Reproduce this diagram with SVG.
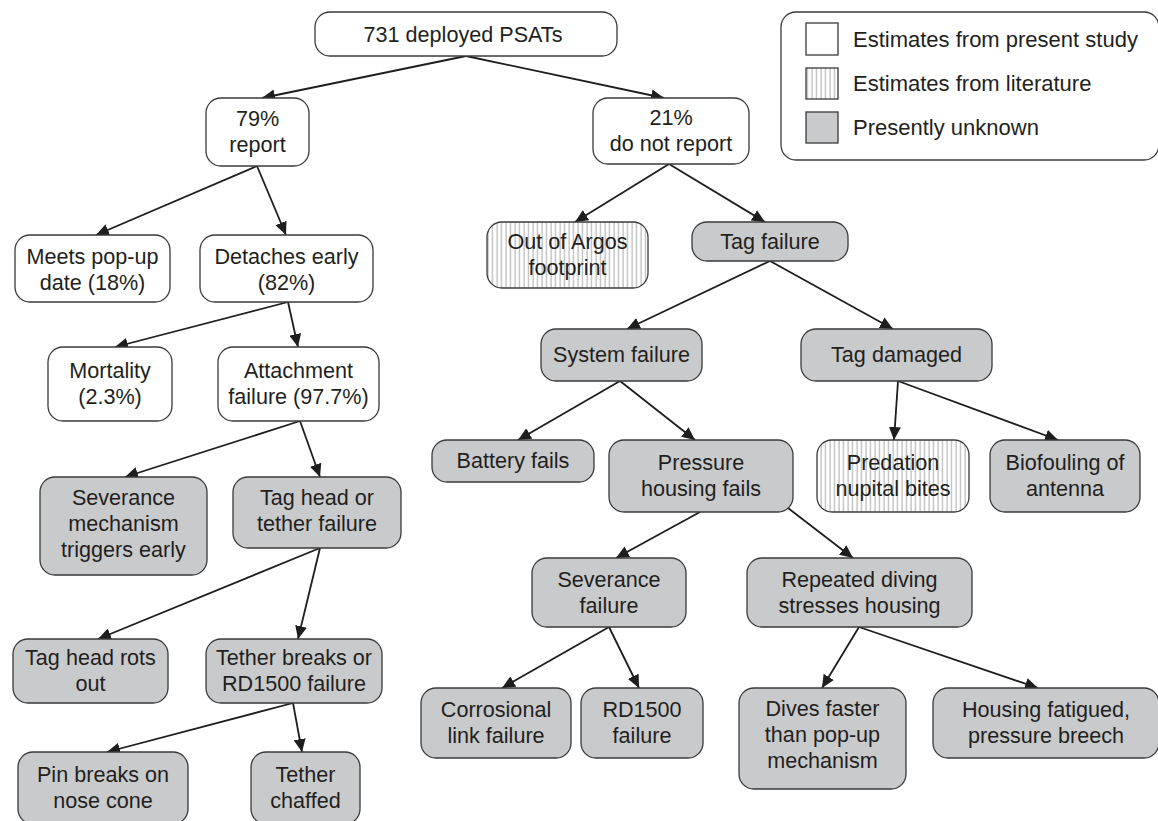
<svg xmlns="http://www.w3.org/2000/svg" width="1158" height="821" viewBox="0 0 1158 821">
<defs>
<pattern id="hatch" patternUnits="userSpaceOnUse" width="4.5" height="10">
<rect width="4.5" height="10" fill="#ffffff"/>
<line x1="2" y1="0" x2="2" y2="10" stroke="#9a9a9a" stroke-width="0.9"/>
</pattern>
<marker id="ah" markerUnits="userSpaceOnUse" markerWidth="13" markerHeight="12" refX="13" refY="6" orient="auto">
<path d="M0,0 L13,6 L0,12 z" fill="#1e1e1e"/>
</marker>
<style>
.b{stroke:#3a3a3a;stroke-width:1.3}
.w{fill:#ffffff}
.g{fill:#c9cacc}
.h{fill:url(#hatch)}
text{font-family:"Liberation Sans",Arial,sans-serif;font-size:21.6px;fill:#231f20;text-anchor:middle}
.lg{font-size:22px;text-anchor:start}
.c line{stroke:#1e1e1e;stroke-width:1.8;marker-end:url(#ah)}
</style>
</defs>
<rect width="1158" height="821" fill="#ffffff"/>

<g id="legend">
<rect class="b w" x="781" y="12" width="378" height="148" rx="15"/>
<rect class="b w" x="806" y="23" width="32" height="32"/>
<rect class="b h" x="806" y="68" width="32" height="31"/>
<rect class="b g" x="806" y="112" width="32" height="31"/>
<text class="lg" x="853" y="47">Estimates from present study</text>
<text class="lg" x="853" y="91">Estimates from literature</text>
<text class="lg" x="853" y="135">Presently unknown</text>
</g>

<g class="c" id="connectors">
<line x1="466" y1="56" x2="262" y2="98"/>
<line x1="466" y1="56" x2="664" y2="98"/>
<line x1="257" y1="166" x2="96" y2="235"/>
<line x1="257" y1="166" x2="286" y2="235"/>
<line x1="669" y1="164" x2="575" y2="222"/>
<line x1="669" y1="164" x2="765" y2="222"/>
<line x1="288" y1="302" x2="115" y2="347"/>
<line x1="288" y1="302" x2="298" y2="347"/>
<line x1="770" y1="261" x2="627" y2="329"/>
<line x1="770" y1="261" x2="893" y2="329"/>
<line x1="300" y1="421" x2="125" y2="477"/>
<line x1="300" y1="421" x2="320" y2="477"/>
<line x1="620" y1="381" x2="518" y2="440"/>
<line x1="620" y1="381" x2="695" y2="440"/>
<line x1="898" y1="381" x2="894" y2="440"/>
<line x1="898" y1="381" x2="1058" y2="440"/>
<line x1="320" y1="548" x2="98" y2="639"/>
<line x1="320" y1="548" x2="298" y2="639"/>
<line x1="293" y1="703" x2="107" y2="752"/>
<line x1="293" y1="703" x2="302" y2="752"/>
<line x1="700" y1="512" x2="616" y2="558"/>
<line x1="788" y1="508" x2="853" y2="558"/>
<line x1="609" y1="627" x2="502" y2="688"/>
<line x1="609" y1="627" x2="639" y2="688"/>
<line x1="859" y1="627" x2="822" y2="688"/>
<line x1="859" y1="627" x2="1038" y2="688"/>
</g>

<g id="n_top"><rect class="b w" x="315" y="12" width="302" height="44" rx="15"/><text x="463" y="42">731 deployed PSATs</text></g>
<g id="n_report"><rect class="b w" x="206" y="98" width="103" height="68" rx="15"/><text x="257.5" y="126">79%</text><text x="257.5" y="152">report</text></g>
<g id="n_noreport"><rect class="b w" x="593" y="98" width="156" height="66" rx="15"/><text x="671" y="125">21%</text><text x="671" y="151">do not report</text></g>
<g id="n_meets"><rect class="b w" x="15" y="235" width="155" height="67" rx="15"/><text x="92.5" y="264">Meets pop-up</text><text x="92.5" y="290">date (18%)</text></g>
<g id="n_detaches"><rect class="b w" x="200" y="235" width="173" height="67" rx="15"/><text x="286.5" y="264">Detaches early</text><text x="286.5" y="290">(82%)</text></g>
<g id="n_argos"><rect class="b h" x="487" y="222" width="161" height="66" rx="15"/><text x="567.5" y="249">Out of Argos</text><text x="567.5" y="275">footprint</text></g>
<g id="n_tagfail"><rect class="b g" x="692" y="222" width="156" height="39" rx="15"/><text x="770" y="249">Tag failure</text></g>
<g id="n_mort"><rect class="b w" x="48" y="347" width="124" height="74" rx="15"/><text x="110" y="378">Mortality</text><text x="110" y="404">(2.3%)</text></g>
<g id="n_attach"><rect class="b w" x="218" y="347" width="161" height="74" rx="15"/><text x="298.5" y="378">Attachment</text><text x="298.5" y="404">failure (97.7%)</text></g>
<g id="n_system"><rect class="b g" x="541" y="329" width="161" height="52" rx="15"/><text x="621.5" y="362">System failure</text></g>
<g id="n_damaged"><rect class="b g" x="801" y="329" width="191" height="52" rx="15"/><text x="896.5" y="362">Tag damaged</text></g>
<g id="n_battery"><rect class="b g" x="432" y="440" width="162" height="42" rx="15"/><text x="513" y="468">Battery fails</text></g>
<g id="n_pressure"><rect class="b g" x="609" y="440" width="184" height="72" rx="15"/><text x="701" y="470">Pressure</text><text x="701" y="496">housing fails</text></g>
<g id="n_predation"><rect class="b h" x="817" y="440" width="152" height="72" rx="15"/><text x="893" y="470">Predation</text><text x="893" y="496">nupital bites</text></g>
<g id="n_biofoul"><rect class="b g" x="990" y="440" width="150" height="72" rx="15"/><text x="1065" y="470">Biofouling of</text><text x="1065" y="496">antenna</text></g>
<g id="n_sevmech"><rect class="b g" x="40" y="477" width="167" height="98" rx="15"/><text x="123.5" y="505">Severance</text><text x="123.5" y="531">mechanism</text><text x="123.5" y="557">triggers early</text></g>
<g id="n_taghead"><rect class="b g" x="233" y="477" width="168" height="71" rx="15"/><text x="317" y="505">Tag head or</text><text x="317" y="531">tether failure</text></g>
<g id="n_rots"><rect class="b g" x="13" y="639" width="155" height="64" rx="15"/><text x="90.5" y="665">Tag head rots</text><text x="90.5" y="691">out</text></g>
<g id="n_tether"><rect class="b g" x="206" y="639" width="176" height="64" rx="15"/><text x="294" y="665">Tether breaks or</text><text x="294" y="691">RD1500 failure</text></g>
<g id="n_pin"><rect class="b g" x="18" y="752" width="170" height="72" rx="15"/><text x="103" y="782">Pin breaks on</text><text x="103" y="808">nose cone</text></g>
<g id="n_chaffed"><rect class="b g" x="251" y="752" width="109" height="72" rx="15"/><text x="305.5" y="782">Tether</text><text x="305.5" y="808">chaffed</text></g>
<g id="n_sevfail"><rect class="b g" x="532" y="558" width="154" height="69" rx="15"/><text x="609" y="587">Severance</text><text x="609" y="613">failure</text></g>
<g id="n_repeated"><rect class="b g" x="747" y="558" width="225" height="69" rx="15"/><text x="859.5" y="587">Repeated diving</text><text x="859.5" y="613">stresses housing</text></g>
<g id="n_corr"><rect class="b g" x="421" y="688" width="150" height="70" rx="15"/><text x="496" y="717">Corrosional</text><text x="496" y="743">link failure</text></g>
<g id="n_rd1500"><rect class="b g" x="581" y="688" width="122" height="70" rx="15"/><text x="642" y="717">RD1500</text><text x="642" y="743">failure</text></g>
<g id="n_dives"><rect class="b g" x="739" y="688" width="167" height="101" rx="15"/><text x="822.5" y="716">Dives faster</text><text x="822.5" y="742">than pop-up</text><text x="822.5" y="768">mechanism</text></g>
<g id="n_housing"><rect class="b g" x="933" y="688" width="226" height="70" rx="15"/><text x="1046" y="717">Housing fatigued,</text><text x="1046" y="743">pressure breech</text></g>
</svg>
